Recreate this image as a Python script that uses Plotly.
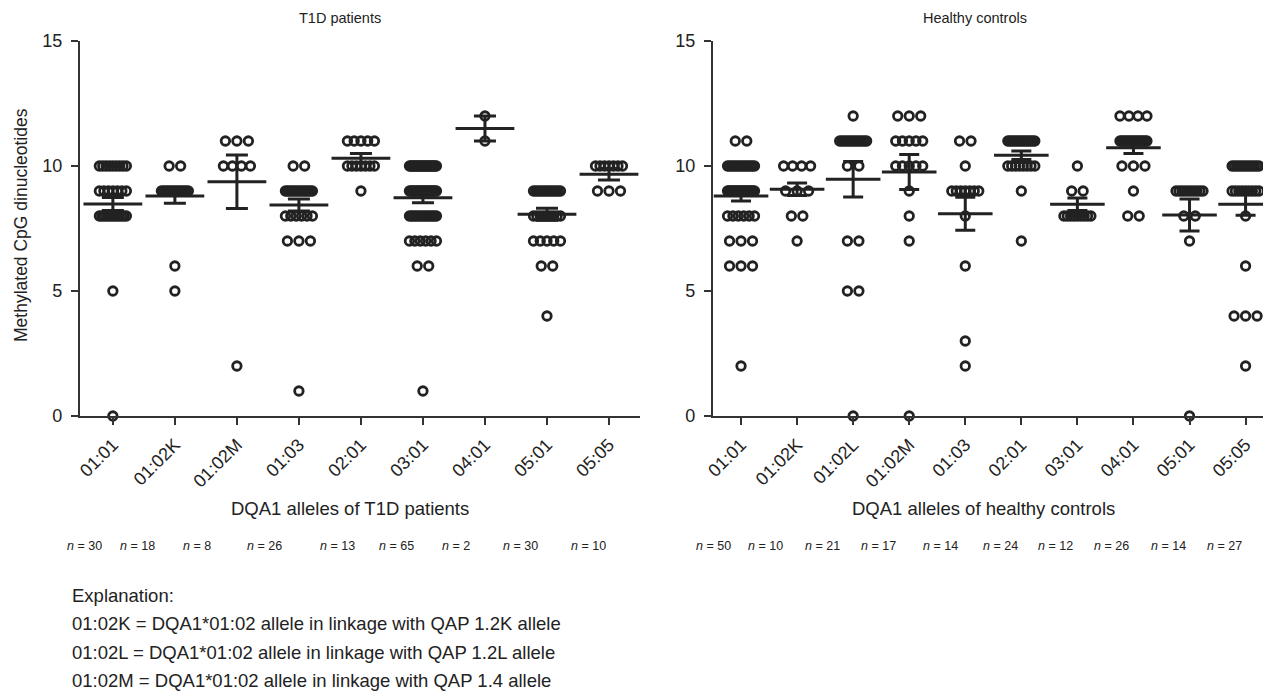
import numpy as np
import plotly.graph_objects as go

# ---------------- data ----------------
t1d_alleles = ["01:01", "01:02K", "01:02M", "01:03", "02:01", "03:01", "04:01", "05:01", "05:05"]
t1d_levels = [[10, 9, 8, 5, 0], [10, 9, 6, 5], [11, 10, 2], [10, 9, 8, 7, 1], [11, 10, 9],
              [10, 9, 8, 7, 6, 1], [12, 11], [9, 8, 7, 6, 4], [10, 9]]
t1d_counts = [[9, 7, 12, 1, 1], [2, 14, 1, 1], [3, 4, 1], [2, 14, 6, 3, 1], [5, 7, 1],
              [22, 20, 14, 6, 2, 1], [1, 1], [13, 9, 5, 2, 1], [7, 3]]
t1d_mean = [8.48, 8.80, 9.37, 8.44, 10.31, 8.73, 11.5, 8.07, 9.67]
t1d_sem = [0.26, 0.29, 1.07, 0.24, 0.19, 0.20, 0.50, 0.24, 0.23]
t1d_n = [30, 18, 8, 26, 13, 65, 2, 30, 10]

hc_alleles = ["01:01", "01:02K", "01:02L", "01:02M", "01:03", "02:01", "03:01", "04:01", "05:01", "05:05"]
hc_levels = [[11, 10, 9, 8, 7, 6, 2], [10, 9, 8, 7], [12, 11, 10, 7, 5, 0], [12, 11, 10, 9, 8, 7, 0],
             [11, 10, 9, 8, 6, 3, 2], [11, 10, 9, 7], [10, 9, 8], [12, 11, 10, 9, 8],
             [9, 8, 7, 0], [10, 9, 8, 6, 4, 2]]
hc_counts = [[2, 14, 21, 6, 3, 3, 1], [4, 3, 2, 1], [1, 13, 2, 2, 2, 1], [3, 5, 5, 1, 1, 1, 1],
             [2, 1, 7, 1, 1, 1, 1], [14, 8, 1, 1], [1, 2, 9], [4, 16, 3, 1, 2],
             [10, 2, 1, 1], [12, 9, 1, 1, 3, 1]]
hc_mean = [8.80, 9.07, 9.47, 9.76, 8.09, 10.43, 8.47, 10.73, 8.04, 8.47]
hc_sem = [0.20, 0.25, 0.71, 0.70, 0.66, 0.17, 0.25, 0.23, 0.64, 0.44]
hc_n = [50, 10, 21, 17, 14, 24, 12, 26, 14, 27]

y_ticks = [0, 5, 10, 15]

explanation = [
    "Explanation:",
    "01:02K = DQA1*01:02 allele in linkage with QAP 1.2K allele",
    "01:02L = DQA1*01:02 allele in linkage with QAP 1.2L allele",
    "01:02M = DQA1*01:02 allele in linkage with QAP 1.4 allele",
]

# ---------------- layout constants ----------------
# the page body keeps the browser's default 8 px margin, so the figure is drawn
# 8 px smaller and every screen position below is shifted by that offset
OFF = 8
W, H = 1271 - OFF, 693 - OFF
INK = "#222222"
FONT = "Liberation Sans, Arial, Helvetica, sans-serif"

# screen-pixel geometry of the two panels
L_X0, L_X1, L_RANGE = 80, 640, [-0.53, 8.5]
R_X0, R_X1, R_RANGE = 713, 1268, [-0.5, 9.4]
Y_BOT, Y_TOP = 416, 41

DOT_STEP_PX = 11.5
DOT_SPAN_MAX_PX = 27


def px(x):
    return (x - OFF) / W


def py(y):
    return 1 - (y - OFF) / H


def px_per_unit(x0, x1, rng):
    return (x1 - x0) / (rng[1] - rng[0])


def swarm(levels, counts, ppu):
    xs, ys = [], []
    for i, (lv, ct) in enumerate(zip(levels, counts)):
        for v, k in zip(lv, ct):
            span = min((k - 1) * DOT_STEP_PX, DOT_SPAN_MAX_PX) / ppu
            offs = np.linspace(-span / 2, span / 2, k) if k > 1 else np.array([0.0])
            xs.extend(list(i + offs))
            ys.extend([v] * k)
    return xs, ys


fig = go.Figure()

panels = [
    (t1d_levels, t1d_counts, t1d_mean, t1d_sem, "x", "y", px_per_unit(L_X0, L_X1, L_RANGE), 42, 11),
    (hc_levels, hc_counts, hc_mean, hc_sem, "x2", "y2", px_per_unit(R_X0, R_X1, R_RANGE), 39, 10),
]
for levels, counts, means, sems, xa, ya, ppu, mlen, capw in panels:
    xs, ys = swarm(levels, counts, ppu)
    fig.add_trace(go.Scatter(
        x=xs, y=ys, mode="markers", xaxis=xa, yaxis=ya, cliponaxis=False,
        marker=dict(symbol="circle-open", size=8.5, color=INK, line=dict(width=2.8, color=INK)),
        showlegend=False, hoverinfo="skip"))
    fig.add_trace(go.Scatter(
        x=list(range(len(means))), y=means, mode="markers", xaxis=xa, yaxis=ya, cliponaxis=False,
        marker=dict(symbol="line-ew", size=mlen, color=INK, line=dict(width=3, color=INK)),
        error_y=dict(type="data", array=sems, symmetric=True, color=INK, thickness=3, width=capw),
        showlegend=False, hoverinfo="skip"))

axis_common = dict(
    showline=True, linewidth=2.2, linecolor="#333333", showgrid=False, zeroline=False,
    ticks="outside", ticklen=7, tickwidth=2, tickcolor="#333333", automargin=False,
    tickfont=dict(family=FONT, size=18, color=INK),
)

ydom = [py(Y_BOT), py(Y_TOP)]
fig.update_layout(
    width=W, height=H, margin=dict(l=0, r=0, t=0, b=0, pad=0, autoexpand=False),
    paper_bgcolor="white", plot_bgcolor="white",
    font=dict(family=FONT, color=INK),
    xaxis=dict(domain=[px(L_X0), px(L_X1)], range=L_RANGE, tickvals=list(range(len(t1d_alleles))),
               ticktext=t1d_alleles, tickangle=-45, anchor="y", ticklabelstandoff=2, **axis_common),
    yaxis=dict(domain=ydom, range=[0, 15], tickvals=y_ticks, anchor="x", ticklabelstandoff=5,
               **axis_common),
    xaxis2=dict(domain=[px(R_X0), min(px(R_X1), 1.0)], range=R_RANGE,
                tickvals=list(range(len(hc_alleles))), ticklabelstandoff=2,
                ticktext=hc_alleles, tickangle=-45, anchor="y2", **axis_common),
    yaxis2=dict(domain=ydom, range=[0, 15], tickvals=y_ticks, anchor="x2", ticklabelstandoff=5,
                **axis_common),
)

ann = []


def txt(x, y, s, size, xanchor="center", angle=0):
    ann.append(dict(x=px(x), y=py(y), xref="paper", yref="paper", text=s, showarrow=False,
                    xanchor=xanchor, yanchor="middle", textangle=angle,
                    font=dict(family=FONT, size=size, color=INK)))


txt(340, 18, "T1D patients", 14.5)
txt(975, 18, "Healthy controls", 14.5)
txt(21, 225, "Methylated CpG dinucleotides", 17.5, angle=-90)
txt(350, 508, "DQA1 alleles of T1D patients", 18.5)
txt(984, 508, "DQA1 alleles of healthy controls", 18.5)

t1d_n_px = [84, 137, 197, 264, 337, 396, 456, 520, 588]
hc_n_px = [713, 765, 822, 878, 940, 1001, 1055, 1111, 1168, 1224]
for x, n in zip(t1d_n_px, t1d_n):
    txt(x, 546, f"<i>n</i> = {n}", 12.5)
for x, n in zip(hc_n_px, hc_n):
    txt(x, 546, f"<i>n</i> = {n}", 12.5)

for j, line in enumerate(explanation):
    txt(70, 595 + j * 28.5, line, 18.5, xanchor="left")

fig.update_layout(annotations=ann)
fig.write_html("out.html")
